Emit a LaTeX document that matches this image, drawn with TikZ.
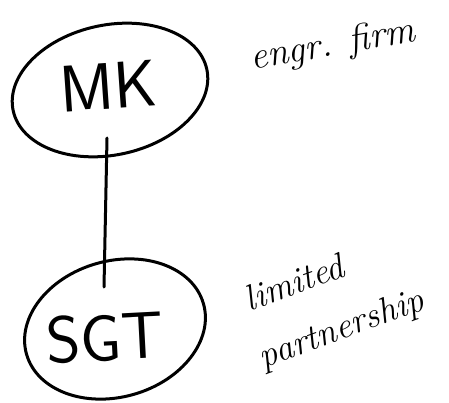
\documentclass[tikz,border=0pt]{standalone}
\usetikzlibrary{shapes.geometric}
\begin{document}
\begin{tikzpicture}[x=1pt,y=-1pt,
  ink/.style={line width=3pt,black,line cap=round},
  ring/.style={ink,draw,ellipse,inner sep=0pt},
  entityname/.style={font=\fontsize{66}{66}\selectfont\sffamily},
  note/.style={font=\fontsize{38}{38}\selectfont\itshape}]
  \useasboundingbox (0,0) rectangle (449,403);
  % the two parties
  \node[ring,minimum width=198pt,minimum height=130pt,rotate=12] (mk) at (110,90) {};
  \node[entityname,rotate=4] (mktext) at (108,86) {MK};
  \node[ring,minimum width=184pt,minimum height=136pt,rotate=16] (sgt) at (115,329) {};
  \node[entityname,rotate=3] (sgttext) at (105,338) {SGT};
  % link between them, from inside the upper ring down to the rim of the lower one
  \coordinate (linktop) at (107,138);
  \coordinate (linkend) at (104,287);
  \draw[ink] (linktop) -- (linkend);
  % descriptions
  \node[note,rotate=10] (firm) at (333,46) {engr. firm};
  \node[note,rotate=20,font=\fontsize{36}{36}\selectfont\itshape] (lim) at (294,282) {limited};
  \node[note,rotate=20,font=\fontsize{36}{36}\selectfont\itshape] (part) at (342,330) {partnership};
\end{tikzpicture}
\end{document}
